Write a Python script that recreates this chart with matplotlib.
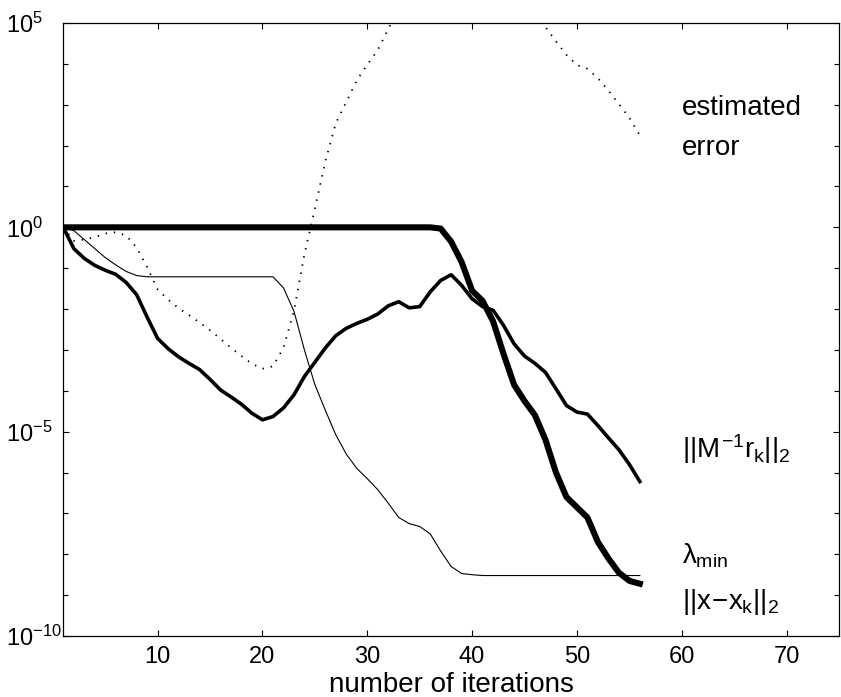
import matplotlib
matplotlib.use("Agg")
import matplotlib.pyplot as plt
import numpy as np
from matplotlib.ticker import LogLocator, FixedLocator, NullFormatter

plt.rcParams['font.family'] = ['Liberation Sans', 'DejaVu Sans']
plt.rcParams['mathtext.fontset'] = 'custom'
plt.rcParams['mathtext.rm'] = 'Liberation Sans'
plt.rcParams['mathtext.it'] = 'Liberation Sans'

iters = list(range(1, 57))

# log10 of the quantities
log_err_x = [0.0] * 36 + [
    -0.03, -0.35, -0.85, -1.55, -1.8, -2.3, -3.1, -3.85, -4.25, -4.6,
    -5.2, -6.0, -6.6, -6.85, -7.1, -7.7, -8.1, -8.45, -8.65, -8.72]

log_res = [
    0.0, -0.52, -0.76, -0.93, -1.05, -1.15, -1.35, -1.65, -2.2, -2.72,
    -2.97, -3.17, -3.33, -3.48, -3.72, -3.98, -4.15, -4.33, -4.55, -4.71,
    -4.63, -4.42, -4.1, -3.65, -3.3, -2.95, -2.65, -2.47, -2.35, -2.25,
    -2.12, -1.92, -1.82, -1.97, -1.94, -1.58, -1.3, -1.16, -1.42, -1.75,
    -1.94, -2.03, -2.4, -2.85, -3.15, -3.33, -3.55, -3.95, -4.36, -4.52,
    -4.57, -4.85, -5.15, -5.44, -5.8, -6.22]

log_lmin = [
    0.0, -0.08, -0.3, -0.52, -0.74, -0.92, -1.08, -1.18, -1.21, -1.21,
    -1.21, -1.21, -1.21, -1.21, -1.21, -1.21, -1.21, -1.21, -1.21, -1.21,
    -1.21, -1.48, -2.05, -3.0, -3.85, -4.48, -5.08, -5.55, -5.9, -6.15,
    -6.42, -6.75, -7.1, -7.25, -7.32, -7.5, -7.92, -8.3, -8.47, -8.5] + [-8.52] * 16

log_est = [
    0.0, -0.33, -0.3, -0.24, -0.15, -0.12, -0.2, -0.5, -0.97, -1.52,
    -1.77, -1.98, -2.15, -2.33, -2.52, -2.73, -2.95, -3.15, -3.34, -3.46,
    -3.4, -2.95, -2.05, -0.66, 0.45, 1.62, 2.55, 3.07, 3.6, 3.98,
    4.34, 4.85, 5.4, 5.9, 6.3, 6.6, 6.8, 6.9, 7.0, 7.0,
    6.9, 6.7, 6.4, 6.1, 5.8, 5.4, 4.9, 4.55, 4.22, 3.97,
    3.88, 3.65, 3.35, 3.02, 2.68, 2.25]

fig = plt.figure(figsize=(8.41, 6.97), dpi=100)
ax = fig.add_axes([0.0753, 0.0875, 0.9223, 0.8795])

x = np.array(iters)
ax.semilogy(x, 10.0 ** np.array(log_est), color='k', lw=1.3, linestyle=(0, (0.8, 3.8)))
ax.semilogy(x, 10.0 ** np.array(log_lmin), color='k', lw=0.8)
ax.semilogy(x, 10.0 ** np.array(log_res), color='k', lw=2.6)
ax.semilogy(x, 10.0 ** np.array(log_err_x), color='k', lw=4.4)

ax.set_xlim(1, 75)
ax.set_ylim(1e-10, 1e5)
ax.set_xticks([10, 20, 30, 40, 50, 60, 70])
ax.yaxis.set_major_locator(FixedLocator([1e-10, 1e-5, 1e0, 1e5]))
ax.yaxis.set_minor_locator(LogLocator(base=10, subs=(1.0,), numticks=30))
ax.yaxis.set_minor_formatter(NullFormatter())
ax.tick_params(which='both', direction='in', top=True, right=True, width=0.8)
ax.tick_params(which='major', length=4.5, labelsize=17)
ax.tick_params(which='minor', length=3.5)
ax.tick_params(axis='x', pad=7)
ax.tick_params(axis='y', pad=41)
for lab in ax.get_yticklabels():
    lab.set_horizontalalignment('left')
for s in ax.spines.values():
    s.set_linewidth(0.9)

ax.set_xlabel('number of iterations', fontsize=20, labelpad=3)

ax.text(60, 10 ** 2.75, 'estimated', fontsize=20, va='baseline')
ax.text(60, 10 ** 1.77, 'error', fontsize=20, va='baseline')
ax.text(60, 10 ** -5.64, r'$||M^{-1}r_k||_2$', fontsize=20, va='baseline')
ax.text(60, 10 ** -8.23, r'$\lambda_{\rm min}$', fontsize=20, va='baseline')
ax.text(60, 10 ** -9.35, r'$||x\!-\!x_k||_2$', fontsize=20, va='baseline')

fig.savefig('out.png', dpi=100)
